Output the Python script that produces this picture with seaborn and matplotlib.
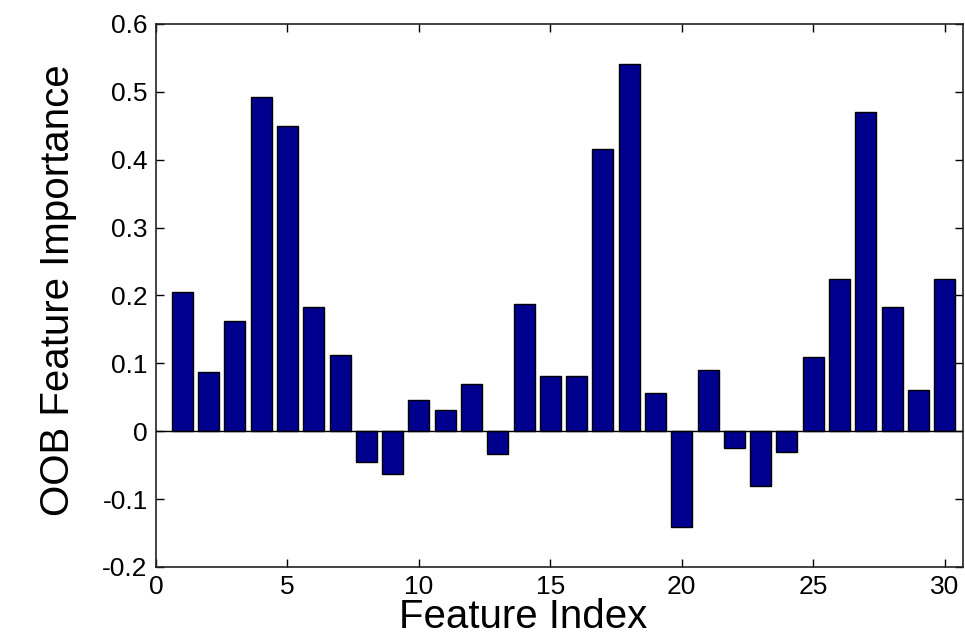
import matplotlib
matplotlib.use("Agg")
from matplotlib import pyplot as plt
import pandas as pd
import seaborn as sns

# feature index and out-of-bag importance
feature_index = list(range(1, 31))
importance = [0.205, 0.088, 0.162, 0.492, 0.449, 0.183, 0.112, -0.045, -0.063, 0.046,
              0.031, 0.070, -0.034, 0.187, 0.082, 0.081, 0.416, 0.541, 0.057, -0.141,
              0.090, -0.025, -0.081, -0.031, 0.109, 0.224, 0.470, 0.183, 0.061, 0.224]
x_ticks = [0, 5, 10, 15, 20, 25, 30]
y_ticks = [-0.2, -0.1, 0, 0.1, 0.2, 0.3, 0.4, 0.5, 0.6]
y_tick_labels = ['-0.2', '-0.1', '0', '0.1', '0.2', '0.3', '0.4', '0.5', '0.6']

df = pd.DataFrame({'Feature Index': feature_index, 'OOB Feature Importance': importance})

sns.set_style('ticks')
plt.rcParams['font.family'] = ['Liberation Sans', 'DejaVu Sans']
plt.rcParams['text.color'] = 'black'
plt.rcParams['axes.labelcolor'] = 'black'
plt.rcParams['xtick.color'] = 'black'
plt.rcParams['ytick.color'] = 'black'

fig = plt.figure(figsize=(9.65, 6.36), dpi=100)
ax = fig.add_axes([0.1617, 0.1085, 0.8363, 0.8538])

sns.barplot(data=df, x='Feature Index', y='OOB Feature Importance', native_scale=True,
            color='#00008F', edgecolor='black', linewidth=1.0, width=0.8,
            saturation=1, errorbar=None, ax=ax)
ax.axhline(0, color='black', lw=1.0, zorder=3)

ax.set_xlim(0, 30.7)
ax.set_ylim(-0.2, 0.6)
ax.set_xticks(x_ticks)
ax.set_xticklabels([str(t) for t in x_ticks])
ax.set_yticks(y_ticks)
ax.set_yticklabels(y_tick_labels)
ax.tick_params(direction='in', length=6, width=1, top=True, right=True,
               labelsize=19, pad=6, colors='black')
for s in ax.spines.values():
    s.set_visible(True)
    s.set_linewidth(1.2)
    s.set_color('#222222')

ax.set_xlabel('Feature Index', fontsize=29, labelpad=0)
ax.set_ylabel('OOB Feature Importance', fontsize=29, labelpad=8)
ax.xaxis.set_label_coords(0.455, -0.058)
ax.yaxis.set_label_coords(-0.098, 0.51)

fig.savefig('out.png', dpi=100)
